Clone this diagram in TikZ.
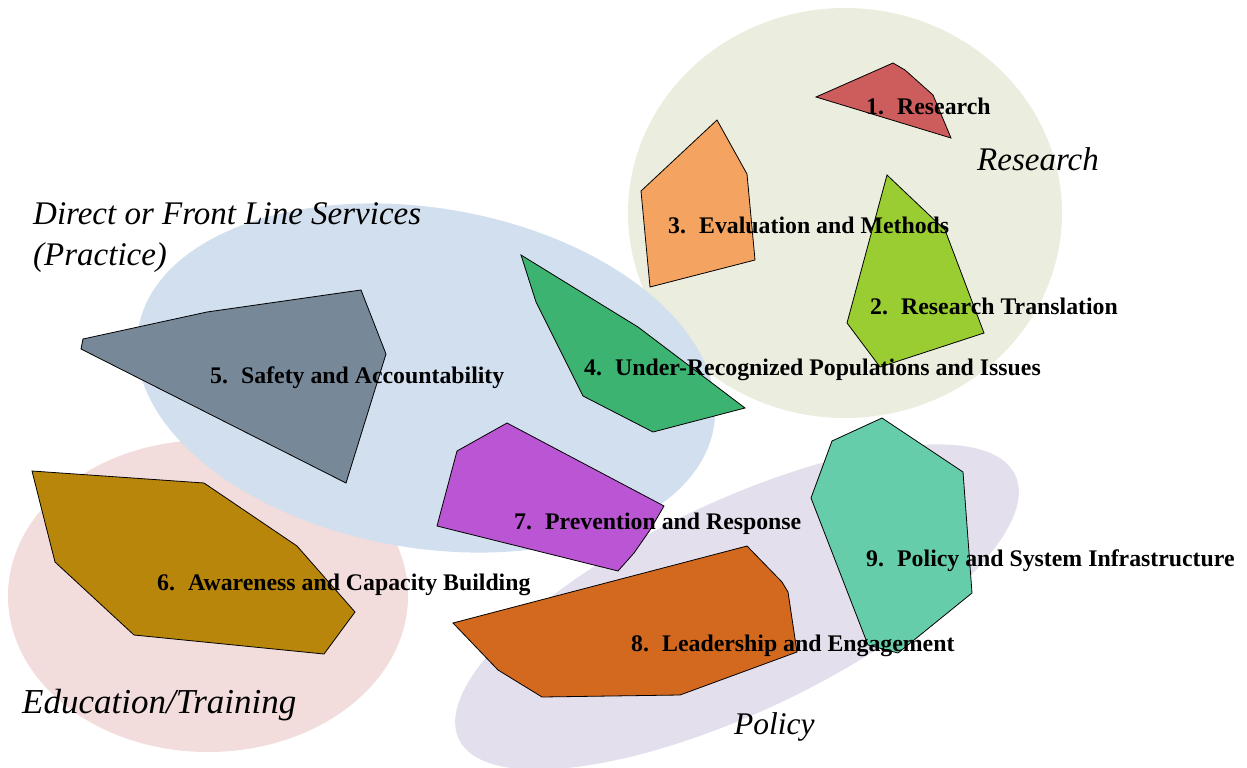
\documentclass[tikz,border=0pt]{standalone}
\usepackage{fontspec}
\setmainfont{Liberation Serif}
\definecolor{researchbg}{RGB}{235,238,222}
\definecolor{edubg}{RGB}{242,220,220}
\definecolor{practicebg}{RGB}{209,223,238}
\definecolor{policybg}{RGB}{228,223,236}
\definecolor{cA}{RGB}{205,92,92}
\definecolor{cB}{RGB}{154,205,50}
\definecolor{cC}{RGB}{244,164,96}
\definecolor{cD}{RGB}{60,179,113}
\definecolor{cE}{RGB}{119,136,153}
\definecolor{cF}{RGB}{184,134,11}
\definecolor{cG}{RGB}{186,85,211}
\definecolor{cH}{RGB}{210,105,30}
\definecolor{cI}{RGB}{102,205,170}
\begin{document}
\begin{tikzpicture}[x=1pt,y=-1pt,
  poly/.style={draw=black,line width=0.8pt,line join=miter},
  lbl/.style={anchor=base west,inner sep=0pt,font=\fontsize{23.8}{28}\selectfont\bfseries},
  area/.style={anchor=base west,inner sep=0pt,font=\fontsize{33}{40}\selectfont\itshape}]
\useasboundingbox (0,0) rectangle (1247,768);
% background areas
\fill[researchbg] (845,213) ellipse [x radius=217, y radius=205];
\fill[edubg] (208,596) ellipse [x radius=200, y radius=156];
\fill[practicebg, rotate around={-9.6:(426,378)}] (426,378) ellipse [x radius=292, y radius=170];
\fill[policybg, rotate around={25.4:(737,607)}] (737,607) ellipse [x radius=308, y radius=105];
% polygons
\filldraw[poly, fill=cA] (816,97) -- (893,63) -- (905,70) -- (933,95) -- (951,138) -- cycle;
\filldraw[poly, fill=cC] (641,191) -- (717,120) -- (747,174) -- (755,260) -- (650,287) -- cycle;
\filldraw[poly, fill=cB] (887,175) -- (945,230) -- (984,333) -- (880,367) -- (847,323) -- cycle;
\filldraw[poly, fill=cD] (521,255) -- (638,327) -- (745,408) -- (653,432) -- (583,396) -- (536,302) -- cycle;
\filldraw[poly, fill=cE] (83,339) -- (207,312) -- (361,290) -- (386,354) -- (346,483) -- (81,349) -- cycle;
\filldraw[poly, fill=cF] (32,471) -- (204,483) -- (297,546) -- (355,612) -- (324,654) -- (134,635) -- (55,562) -- cycle;
\filldraw[poly, fill=cG] (507,423) -- (664,506) -- (650,530) -- (634,553) -- (618,571) -- (437,526) -- (457,451) -- cycle;
\filldraw[poly, fill=cI] (882,418) -- (963,472) -- (972,593) -- (898,653) -- (868,645) -- (811,498) -- (832,441) -- cycle;
\filldraw[poly, fill=cH] (747,546) -- (782,582) -- (788,592) -- (797,652) -- (680,695) -- (542,697) -- (498,670) -- (453,623) -- cycle;
% labels
\node[lbl] (l1) at (866,114) {\makebox[31pt][l]{1.}Research};
\node[lbl] (l2) at (870,314) {\makebox[31pt][l]{2.}Research Translation};
\node[lbl] (l3) at (668,233) {\makebox[31pt][l]{3.}Evaluation and Methods};
\node[lbl] (l4) at (584,375) {\makebox[31pt][l]{4.}Under-Recognized Populations and Issues};
\node[lbl] (l5) at (210,383) {\makebox[31pt][l]{5.}Safety and Accountability};
\node[lbl] (l6) at (157,590) {\makebox[31pt][l]{6.}Awareness and Capacity Building};
\node[lbl] (l7) at (514,529) {\makebox[31pt][l]{7.}Prevention and Response};
\node[lbl] (l8) at (631,651) {\makebox[31pt][l]{8.}Leadership and Engagement};
\node[lbl] (l9) at (866,566) {\makebox[31pt][l]{9.}Policy and System Infrastructure};
% area titles
\node[area] (research) at (977,170) {Research};
\node[area] (practice1) at (33,224) {Direct or Front Line Services};
\node[area] (practice2) at (33,265) {(Practice)};
\node[area, font=\fontsize{35}{40}\selectfont\itshape] (edu) at (22,713) {Education/Training};
\node[area, font=\fontsize{31.5}{40}\selectfont\itshape] (policy) at (734,734) {Policy};
\end{tikzpicture}
\end{document}
